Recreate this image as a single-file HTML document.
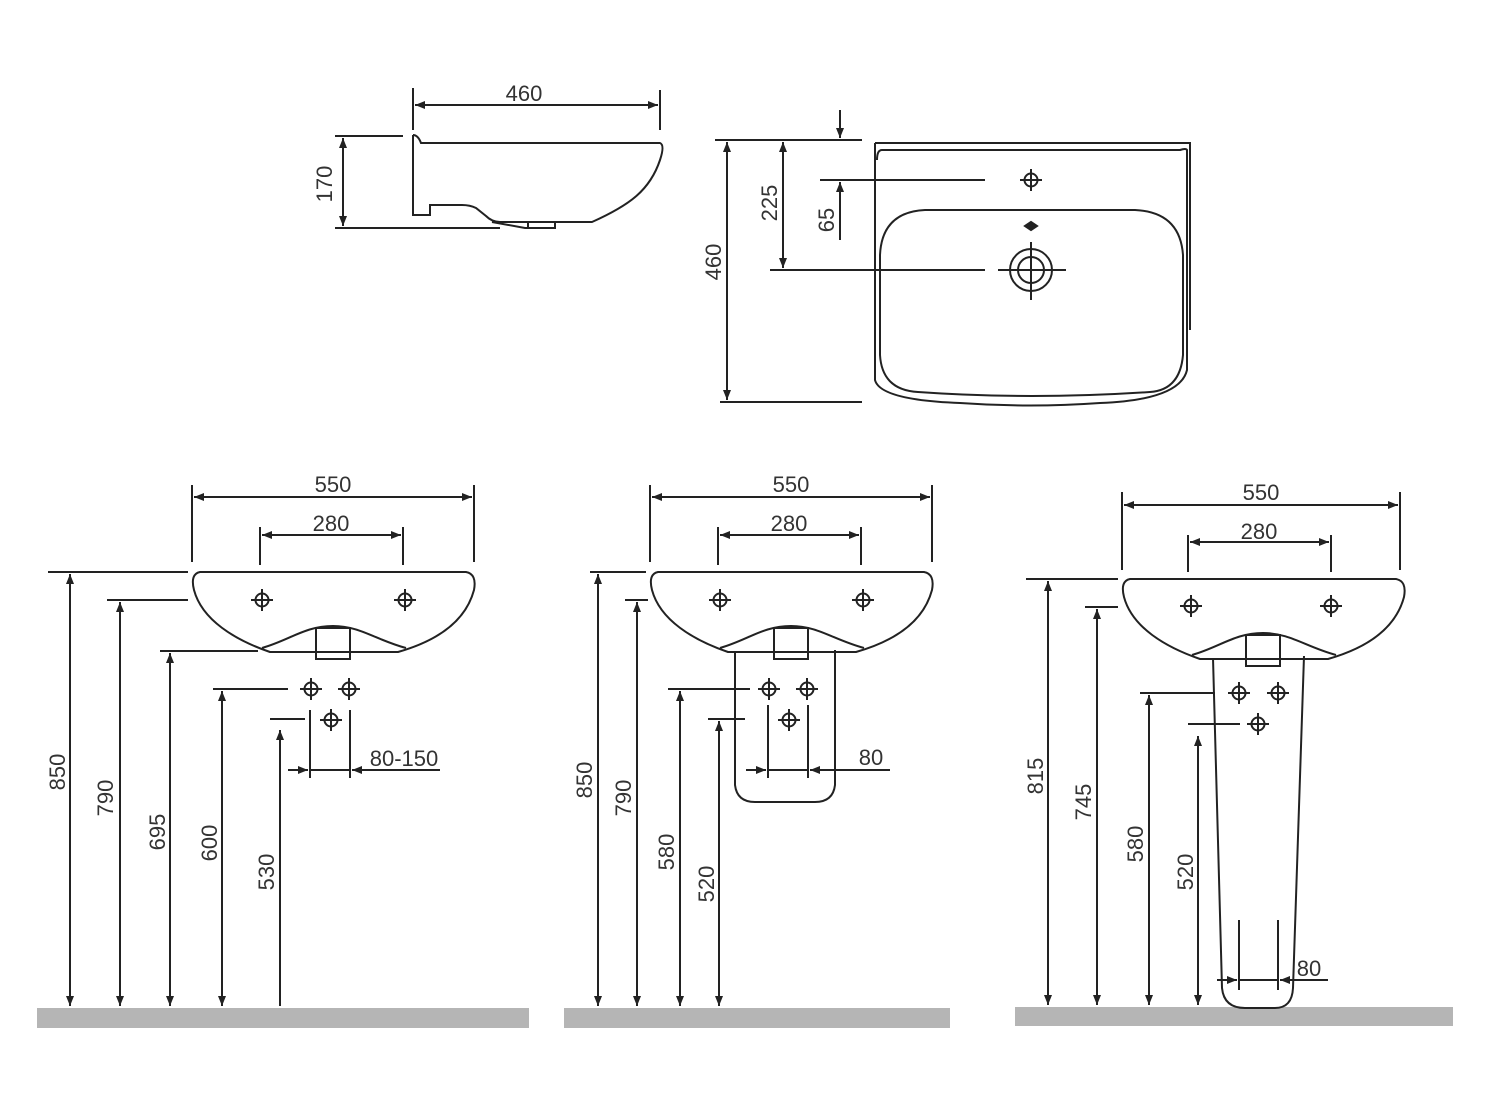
<!DOCTYPE html>
<html><head><meta charset="utf-8"><style>
html,body{margin:0;padding:0;background:#fff;}
svg{display:block}
text{font-family:"Liberation Sans",Arial,sans-serif;font-size:22px;fill:#333}
</style></head><body>
<svg width="1500" height="1117" viewBox="0 0 1500 1117" xmlns="http://www.w3.org/2000/svg">
<defs>
<marker id="a" viewBox="0 0 10 10" refX="10" refY="5" markerWidth="14" markerHeight="10" markerUnits="userSpaceOnUse" orient="auto-start-reverse"><path d="M0,1 L10,5 L0,9 Z" fill="#222"/></marker>
<g id="x"><circle r="6.5" fill="none" stroke="#222" stroke-width="2"/><path d="M-11,0H11M0,-11V11" stroke="#222" stroke-width="2"/></g>
<g id="basin" fill="none" stroke="#222" stroke-width="2">
<path d="M200,572 H466 Q477,574 474,590 C466,620 440,640 398,652 L270,652 C235,640 202,620 194,590 Q190,574 200,572 Z"/>
<path d="M262,648 C290,640 305,626 333,626 C360,626 376,640 406,648"/>
<rect x="316" y="628" width="34" height="31"/>
</g>
</defs>
<g stroke="#222" stroke-width="2" fill="none">
<!-- side view -->
<path d="M413,135 Q418,135 421,143 L660,143 Q665,145 660,160 C650,190 630,205 592,222 L500,222 Q492,222 486,216 L476,208 Q470,205 462,205 H430 V215 H413 V135"/>
<path d="M492,222 L525,228 H555 V222 M528,222 V228"/>
<path d="M413,88 V130 M660,90 V130"/>
<path d="M415,105 H658" marker-start="url(#a)" marker-end="url(#a)"/>
<path d="M335,136 H403 M335,228 H500"/>
<path d="M343,138 V226" marker-start="url(#a)" marker-end="url(#a)"/>
<!-- plan view -->
<path d="M875,143 H1190 V330 M875,143 V380 Q880,400 960,403 Q1030,408 1100,403 Q1180,400 1187,370 V150 Q1186,148 1180,150 H882 Q877,150 877,160"/>
<path d="M925,210 H1135 Q1180,212 1183,255 V355 Q1180,390 1150,392 Q1030,400 918,392 Q882,390 880,355 V255 Q882,212 925,210 Z"/>
<circle cx="1031" cy="270" r="21"/><circle cx="1031" cy="270" r="13"/>
<path d="M998,270 H1066 M1031,242 V300"/>
<use href="#x" x="1031" y="180"/>
<path d="M1025,226 L1031,222 L1037,226 L1031,230 Z" fill="#222"/>
<path d="M715,140 H862 M720,402 H862 M770,270 H985 M820,180 H985"/>
<path d="M727,142 V400" marker-start="url(#a)" marker-end="url(#a)"/>
<path d="M783,142 V268" marker-start="url(#a)" marker-end="url(#a)"/>
<path d="M840,110 V138" marker-end="url(#a)"/>
<path d="M840,240 V182" marker-end="url(#a)"/>
</g>
<text x="524" y="101" text-anchor="middle">460</text>
<text transform="translate(332,184) rotate(-90)" text-anchor="middle">170</text>
<text transform="translate(721,262) rotate(-90)" text-anchor="middle">460</text>
<text transform="translate(777,203) rotate(-90)" text-anchor="middle">225</text>
<text transform="translate(834,220) rotate(-90)" text-anchor="middle">65</text>

<!-- floors -->
<rect x="37" y="1008" width="492" height="20" fill="#b5b5b5"/>
<rect x="564" y="1008" width="386" height="20" fill="#b5b5b5"/>
<rect x="1015" y="1007" width="438" height="19" fill="#b5b5b5"/>

<!-- panel 1 -->
<use href="#basin"/>
<g stroke="#222" stroke-width="2" fill="none">
<path d="M192,485 V562 M474,485 V562 M260,527 V565 M403,527 V565"/>
<path d="M194,497 H472" marker-start="url(#a)" marker-end="url(#a)"/>
<path d="M262,535 H401" marker-start="url(#a)" marker-end="url(#a)"/>
<path d="M48,572 H188 M107,600 H188 M160,651 H258 M213,689 H288 M270,719 H305"/>
<path d="M70,574 V1006" marker-start="url(#a)" marker-end="url(#a)"/>
<path d="M120,602 V1006" marker-start="url(#a)" marker-end="url(#a)"/>
<path d="M170,653 V1006" marker-start="url(#a)" marker-end="url(#a)"/>
<path d="M222,691 V1006" marker-start="url(#a)" marker-end="url(#a)"/>
<path d="M280,730 V1006" marker-start="url(#a)"/>
<path d="M310,710 V778 M350,710 V778"/>
<path d="M288,770 H308" marker-end="url(#a)"/><path d="M440,770 H352" marker-end="url(#a)"/><path d="M310,770 H350"/>
</g>
<use href="#x" x="262" y="600"/><use href="#x" x="405" y="600"/>
<use href="#x" x="311" y="689"/><use href="#x" x="349" y="689"/><use href="#x" x="331" y="720"/>
<text x="333" y="492" text-anchor="middle">550</text>
<text x="331" y="531" text-anchor="middle">280</text>
<text x="404" y="766" text-anchor="middle">80-150</text>
<text transform="translate(65,772) rotate(-90)" text-anchor="middle">850</text>
<text transform="translate(113,798) rotate(-90)" text-anchor="middle">790</text>
<text transform="translate(165,832) rotate(-90)" text-anchor="middle">695</text>
<text transform="translate(217,843) rotate(-90)" text-anchor="middle">600</text>
<text transform="translate(274,872) rotate(-90)" text-anchor="middle">530</text>

<!-- panel 2 -->
<use href="#basin" x="458"/>
<g stroke="#222" stroke-width="2" fill="none">
<path d="M735,652 V785 Q737,802 755,802 H815 Q833,802 835,785 V650"/>
<path d="M650,485 V562 M932,485 V562 M718,527 V565 M861,527 V565"/>
<path d="M652,497 H930" marker-start="url(#a)" marker-end="url(#a)"/>
<path d="M720,535 H859" marker-start="url(#a)" marker-end="url(#a)"/>
<path d="M590,572 H646 M625,600 H648 M668,689 H750 M708,719 H745"/>
<path d="M598,574 V1006" marker-start="url(#a)" marker-end="url(#a)"/>
<path d="M637,602 V1006" marker-start="url(#a)" marker-end="url(#a)"/>
<path d="M680,691 V1006" marker-start="url(#a)" marker-end="url(#a)"/>
<path d="M719,721 V1006" marker-start="url(#a)" marker-end="url(#a)"/>
<path d="M768,705 V778 M808,705 V778"/>
<path d="M746,770 H766" marker-end="url(#a)"/><path d="M890,770 H810" marker-end="url(#a)"/><path d="M768,770 H808"/>
</g>
<use href="#x" x="720" y="600"/><use href="#x" x="863" y="600"/>
<use href="#x" x="769" y="689"/><use href="#x" x="807" y="689"/><use href="#x" x="789" y="720"/>
<text x="791" y="492" text-anchor="middle">550</text>
<text x="789" y="531" text-anchor="middle">280</text>
<text x="871" y="765" text-anchor="middle">80</text>
<text transform="translate(592,780) rotate(-90)" text-anchor="middle">850</text>
<text transform="translate(631,798) rotate(-90)" text-anchor="middle">790</text>
<text transform="translate(674,852) rotate(-90)" text-anchor="middle">580</text>
<text transform="translate(714,884) rotate(-90)" text-anchor="middle">520</text>

<!-- panel 3 -->
<use href="#basin" x="930" y="7"/>
<g stroke="#222" stroke-width="2" fill="none">
<path d="M1213,658 L1222,988 Q1224,1008 1245,1008 H1275 Q1292,1008 1293,988 L1304,656"/>
<path d="M1122,492 V570 M1400,492 V570 M1188,535 V572 M1331,535 V572"/>
<path d="M1124,505 H1398" marker-start="url(#a)" marker-end="url(#a)"/>
<path d="M1190,542 H1329" marker-start="url(#a)" marker-end="url(#a)"/>
<path d="M1026,579 H1118 M1085,607 H1118 M1140,693 H1215 M1188,724 H1240"/>
<path d="M1048,581 V1005" marker-start="url(#a)" marker-end="url(#a)"/>
<path d="M1097,609 V1005" marker-start="url(#a)" marker-end="url(#a)"/>
<path d="M1149,695 V1005" marker-start="url(#a)" marker-end="url(#a)"/>
<path d="M1198,736 V1005" marker-start="url(#a)" marker-end="url(#a)"/>
<path d="M1239,920 V990 M1278,920 V990"/>
<path d="M1217,980 H1237" marker-end="url(#a)"/><path d="M1328,980 H1280" marker-end="url(#a)"/><path d="M1239,980 H1278"/>
</g>
<use href="#x" x="1191" y="606"/><use href="#x" x="1331" y="606"/>
<use href="#x" x="1239" y="693"/><use href="#x" x="1278" y="693"/><use href="#x" x="1258" y="724"/>
<text x="1261" y="500" text-anchor="middle">550</text>
<text x="1259" y="539" text-anchor="middle">280</text>
<text x="1309" y="976" text-anchor="middle">80</text>
<text transform="translate(1043,776) rotate(-90)" text-anchor="middle">815</text>
<text transform="translate(1091,802) rotate(-90)" text-anchor="middle">745</text>
<text transform="translate(1143,844) rotate(-90)" text-anchor="middle">580</text>
<text transform="translate(1193,872) rotate(-90)" text-anchor="middle">520</text>
</svg>
</body></html>
